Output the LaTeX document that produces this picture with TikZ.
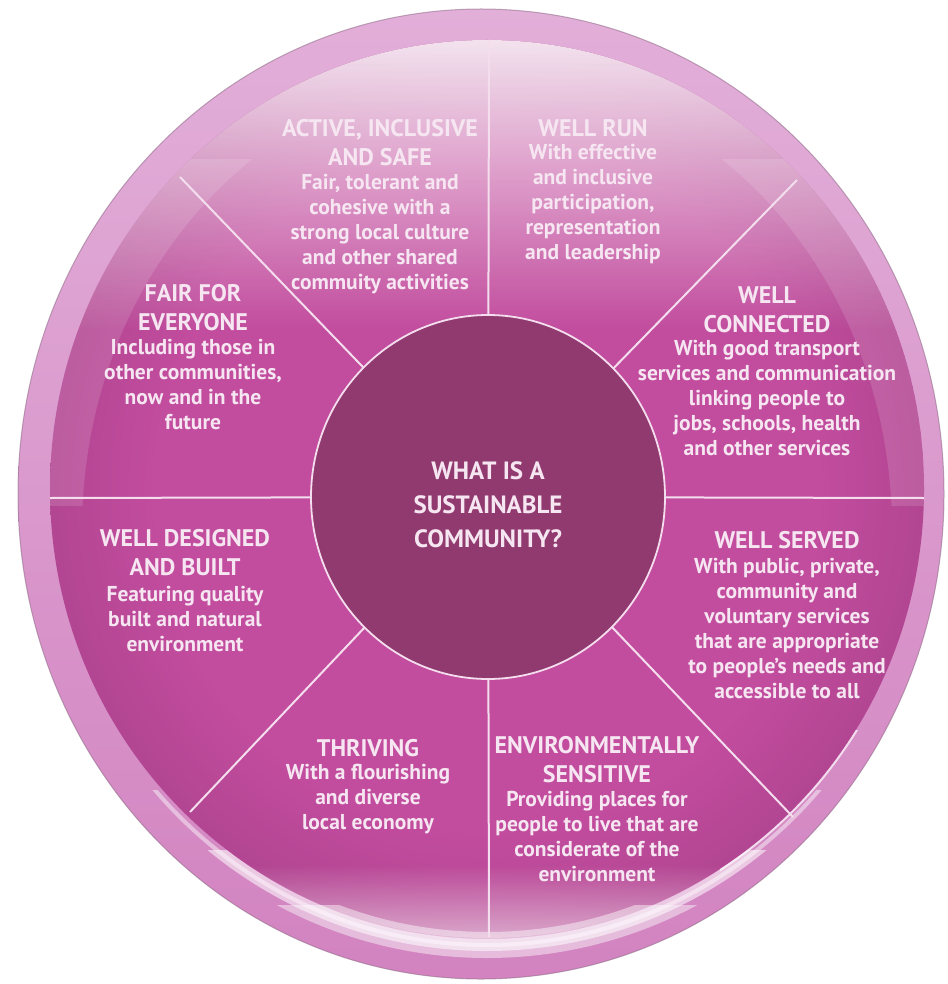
\documentclass[tikz,border=0pt]{standalone}
\usepackage{fontspec}
\setmainfont{PT Sans}
\usetikzlibrary{fadings,shapes.geometric}
\definecolor{txtc}{HTML}{F6E6F1}
\definecolor{hubc}{HTML}{913A70}
\definecolor{linec}{HTML}{F4DEEE}
\definecolor{ringtop}{HTML}{E2AFD9}
\definecolor{ringbot}{HTML}{D283C0}
\definecolor{rimc}{HTML}{8E6A86}
\definecolor{wa}{HTML}{C24C9E}
\definecolor{wb}{HTML}{AD448E}
\definecolor{wc}{HTML}{A5418A}
\definecolor{wd}{HTML}{C46AAF}
\pgfdeclareradialshading{wheelshade}{\pgfpoint{0bp}{0bp}}{color(0bp)=(wa); color(19bp)=(wa); color(27bp)=(wb); color(40bp)=(wc); color(46bp)=(wc); color(50bp)=(wd)}
\tikzfading[name=glowfade, top color=transparent!0, middle color=transparent!72, bottom color=transparent!100]
\tikzfading[name=upfade, top color=transparent!100, bottom color=transparent!0]
\newcommand\ttlfont{\bfseries\fontsize{24}{29}\selectfont}
\newcommand\bodyfont{\bfseries\fontsize{21.5}{25}\selectfont}
\newcommand\hubfont{\bfseries\fontsize{25}{34}\selectfont}
\begin{document}
\begin{tikzpicture}[x=1pt,y=-1pt,
  ttl/.style={font=\ttlfont,text=txtc,align=center,anchor=north,inner sep=0pt},
  bdy/.style={font=\bodyfont,text=txtc,align=center,anchor=north,inner sep=0pt},
  spoke/.style={draw=linec,line width=2pt},
  glow/.style={draw=white}]
\useasboundingbox[fill=white] (0,0) rectangle (947,984);
% outer ring
\shade[top color=ringtop, bottom color=ringbot] (481,494) ellipse [x radius=463, y radius=485];
\draw[draw=rimc, line width=1pt, opacity=0.55] (481,494) ellipse [x radius=463, y radius=485];
% wheel
\path[shading=wheelshade] (487,489) ellipse [x radius=437, y radius=449];
\begin{scope}
  \clip (487,489) ellipse [x radius=437, y radius=449];
  \fill[white, path fading=glowfade, fill opacity=0.85] (40,40) rectangle (940,330);
  \fill[white, path fading=upfade, fill opacity=0.55] (40,865) rectangle (940,940);
  \begin{scope}
    \clip (0,160) rectangle (947,505);
    \fill[white, opacity=0.13, even odd rule] (487,489) ellipse [x radius=437, y radius=449]
         (487,530) ellipse [x radius=405, y radius=455];
  \end{scope}
\end{scope}
% bottom reflections
\begin{scope}
  \clip (0,905) rectangle (947,984);
  \draw[glow, line width=26pt, opacity=0.45] (487,489) ellipse [x radius=442, y radius=456];
\end{scope}
\begin{scope}
  \clip (0,850) rectangle (947,984);
  \draw[glow, line width=12pt, opacity=0.55] (487,489) ellipse [x radius=442, y radius=456];
\end{scope}
\begin{scope}
  \clip (0,790) rectangle (947,984);
  \draw[glow, line width=4pt, opacity=0.45] (487,489) ellipse [x radius=442, y radius=456];
\end{scope}
\begin{scope}
  \clip (720,730) rectangle (880,880);
  \draw[glow, line width=2pt, opacity=0.7] (487,489) ellipse [x radius=438, y radius=450];
\end{scope}
% spokes
\coordinate (c) at (488,497);
\coordinate (sT) at (489,40);
\coordinate (sB) at (489,937);
\coordinate (sL) at (50,498);
\coordinate (sR) at (924,498);
\coordinate (sUL) at (180,177);
\coordinate (sUR) at (797,180);
\coordinate (sLL) at (190,812);
\coordinate (sLR) at (793,817);
\foreach \p in {sT,sB,sL,sR,sUL,sUR,sLL,sLR} \draw[spoke] (c) -- (\p);
% hub
\node[ellipse, minimum width=354, minimum height=364, inner sep=0pt, fill=hubc, draw=linec, line width=1.8pt] (hub) at (488,497) {};
\node[font=\hubfont, text=txtc, align=center, anchor=north, inner sep=0pt] (hubtxt) at (488,461) {WHAT IS A\\SUSTAINABLE\\COMMUNITY?};
% segments
\node[ttl] (t1) at (380,119.6) {ACTIVE, INCLUSIVE\\AND SAFE};
\node[bdy] (b1) at (380,174) {Fair, tolerant and\\cohesive with a\\strong local culture\\and other shared\\commuity activities};
\node[ttl] (t2) at (593,119.6) {WELL RUN};
\node[bdy] (b2) at (593,144) {With effective\\and inclusive\\participation,\\representation\\and leadership};
\node[ttl] (t3) at (193,284.6) {FAIR FOR\\EVERYONE};
\node[bdy] (b3) at (193,339) {Including those in\\other communities,\\now and in the\\future};
\node[ttl] (t4) at (767,286.6) {WELL\\CONNECTED};
\node[bdy] (b4) at (767,340) {With good transport\\services and communication\\linking people to\\jobs, schools, health\\and other services};
\node[ttl] (t5) at (185,529.6) {WELL DESIGNED\\AND BUILT};
\node[bdy] (b5) at (185,586) {Featuring quality\\built and natural\\environment};
\node[ttl] (t6) at (787,531.6) {WELL SERVED};
\node[bdy] (b6) at (787,558) {With public, private,\\community and\\voluntary services\\that are appropriate\\to people’s needs and\\accessible to all};
\node[ttl] (t7) at (368,739.6) {THRIVING};
\node[bdy] (b7) at (368,764) {With a flourishing\\and diverse\\local economy};
\node[ttl] (t8) at (597,736.6) {ENVIRONMENTALLY\\SENSITIVE};
\node[bdy] (b8) at (597,791) {Providing places for\\people to live that are\\considerate of the\\environment};
\end{tikzpicture}
\end{document}
